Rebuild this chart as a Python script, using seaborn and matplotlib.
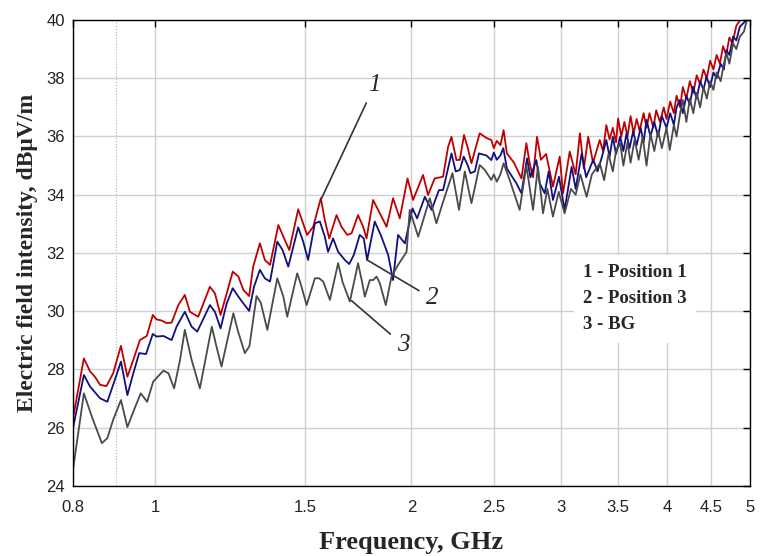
import numpy as np
import pandas as pd
import matplotlib
matplotlib.use('Agg')
import matplotlib.pyplot as plt
import seaborn as sns
from matplotlib.ticker import FixedLocator, NullFormatter

# Частоты (ГГц) и уровни (дБмкВ/м)
freq_pos1 = [0.800, 0.824, 0.838, 0.849, 0.861, 0.876, 0.892, 0.911, 0.927, 0.942, 0.959, 0.977,
             0.993, 1.003, 1.017, 1.031, 1.045, 1.064, 1.083, 1.098, 1.123, 1.159, 1.175, 1.193,
             1.213, 1.233, 1.252, 1.269, 1.289, 1.303, 1.327, 1.345, 1.364, 1.395, 1.414, 1.437,
             1.472, 1.508, 1.533, 1.565, 1.582, 1.601, 1.633, 1.655, 1.681, 1.701, 1.731, 1.755,
             1.771, 1.803, 1.836, 1.870, 1.903, 1.938, 1.979, 2.009, 2.064, 2.092, 2.130, 2.179,
             2.209, 2.229, 2.259, 2.280, 2.306, 2.330, 2.353, 2.406, 2.450, 2.483, 2.500, 2.520,
             2.545, 2.567, 2.590, 2.640, 2.694, 2.730, 2.755, 2.780, 2.810, 2.840, 2.880, 2.934,
             2.988, 3.015, 3.070, 3.120, 3.156, 3.190, 3.228, 3.270, 3.33, 3.36, 3.39, 3.42,
             3.45, 3.48, 3.50, 3.53, 3.56, 3.59, 3.62, 3.65, 3.68, 3.71, 3.75, 3.78,
             3.81, 3.85, 3.88, 3.92, 3.96, 3.99, 4.03, 4.07, 4.10, 4.14, 4.17, 4.21,
             4.25, 4.29, 4.33, 4.37, 4.41, 4.45, 4.49, 4.53, 4.57, 4.61, 4.65, 4.69,
             4.73, 4.77, 4.82, 4.87, 4.95, 5.00]
level_pos1 = [26.32, 28.38, 27.93, 27.75, 27.47, 27.43, 27.87, 28.81, 27.75, 28.33, 29.01, 29.15,
              29.87, 29.72, 29.68, 29.59, 29.61, 30.21, 30.56, 29.98, 29.81, 30.84, 30.61, 29.87,
              30.61, 31.36, 31.19, 30.73, 30.52, 31.53, 32.33, 31.76, 31.59, 32.96, 32.56, 32.10,
              33.50, 32.62, 32.90, 33.88, 33.13, 32.50, 33.30, 32.90, 32.62, 32.68, 33.30, 32.90,
              32.50, 33.82, 33.36, 32.90, 33.88, 33.19, 34.56, 33.82, 34.68, 33.99, 34.56, 34.62,
              35.65, 35.99, 35.19, 35.20, 36.05, 35.60, 35.08, 36.11, 35.95, 35.88, 35.60, 35.85,
              35.70, 36.22, 35.42, 35.10, 34.56, 35.77, 35.08, 34.60, 35.99, 35.20, 35.40, 34.28,
              35.31, 34.05, 35.48, 34.70, 36.11, 34.90, 35.99, 35.10, 35.88, 35.50, 36.39, 35.90,
              36.30, 35.80, 36.62, 36.00, 36.50, 36.00, 36.70, 36.10, 36.60, 36.20, 36.80, 36.30,
              36.80, 36.30, 36.90, 36.50, 37.00, 36.60, 37.20, 36.80, 37.40, 37.00, 37.70, 37.30,
              37.90, 37.50, 38.10, 37.80, 38.30, 38.00, 38.60, 38.30, 38.80, 38.50, 39.10, 38.80,
              39.40, 39.20, 39.80, 40.00, 40.00, 40.00]

freq_pos3 = [0.800, 0.824, 0.838, 0.861, 0.878, 0.896, 0.911, 0.927, 0.942, 0.957, 0.975, 0.993,
             1.003, 1.022, 1.045, 1.059, 1.083, 1.103, 1.120, 1.159, 1.175, 1.193, 1.213, 1.233,
             1.252, 1.269, 1.289, 1.306, 1.327, 1.345, 1.364, 1.391, 1.411, 1.433, 1.472, 1.492,
             1.512, 1.540, 1.561, 1.582, 1.596, 1.618, 1.640, 1.670, 1.690, 1.711, 1.739, 1.758,
             1.774, 1.811, 1.844, 1.878, 1.903, 1.929, 1.965, 2.006, 2.031, 2.074, 2.112, 2.155,
             2.179, 2.209, 2.229, 2.255, 2.280, 2.304, 2.330, 2.347, 2.375, 2.401, 2.450, 2.483,
             2.500, 2.520, 2.545, 2.565, 2.590, 2.658, 2.694, 2.735, 2.760, 2.805, 2.830, 2.869,
             2.900, 2.934, 2.982, 3.028, 3.086, 3.120, 3.171, 3.210, 3.272, 3.310, 3.35, 3.39,
             3.42, 3.45, 3.48, 3.52, 3.55, 3.58, 3.61, 3.645, 3.68, 3.72, 3.75, 3.78,
             3.82, 3.86, 3.90, 3.94, 3.99, 4.03, 4.07, 4.10, 4.136, 4.17, 4.21, 4.25,
             4.287, 4.33, 4.37, 4.41, 4.445, 4.49, 4.53, 4.57, 4.62, 4.66, 4.693, 4.73,
             4.778, 4.82, 4.866, 4.955, 5.00]
level_pos3 = [25.98, 27.81, 27.41, 27.01, 26.89, 27.64, 28.27, 27.12, 27.87, 28.56, 28.53, 29.22,
              29.13, 29.15, 29.01, 29.47, 29.98, 29.47, 29.30, 30.21, 29.98, 29.41, 30.27, 30.79,
              30.50, 30.27, 30.01, 30.84, 31.42, 31.13, 31.02, 32.39, 32.10, 31.53, 32.88, 32.39,
              31.76, 33.02, 33.08, 32.56, 32.04, 32.50, 32.04, 31.76, 31.62, 31.93, 32.62, 32.50,
              31.76, 33.08, 32.56, 31.93, 31.07, 32.62, 32.33, 33.53, 33.19, 33.93, 33.48, 34.16,
              34.16, 34.91, 35.42, 34.80, 34.85, 35.31, 35.00, 34.74, 34.80, 35.42, 35.35, 35.19,
              35.45, 35.20, 35.35, 35.60, 34.90, 34.39, 34.05, 35.25, 34.60, 35.19, 34.40, 34.05,
              34.80, 33.82, 34.62, 33.48, 34.96, 34.20, 35.42, 34.60, 35.20, 34.80, 35.30, 35.88,
              35.30, 35.99, 35.40, 36.00, 35.50, 36.10, 35.60, 36.17, 35.70, 36.30, 35.80, 36.57,
              36.00, 36.50, 36.00, 36.70, 36.30, 36.80, 36.40, 37.00, 37.25, 36.80, 37.40, 37.10,
              37.71, 37.30, 37.90, 37.60, 38.05, 37.70, 38.20, 38.00, 38.50, 38.30, 38.97, 38.80,
              39.43, 39.30, 39.77, 40.00, 40.00]

freq_bg = [0.800, 0.824, 0.842, 0.865, 0.878, 0.892, 0.911, 0.927, 0.942, 0.961, 0.978, 0.994,
           1.022, 1.036, 1.052, 1.069, 1.083, 1.103, 1.128, 1.165, 1.180, 1.196, 1.235, 1.251,
           1.274, 1.290, 1.315, 1.330, 1.354, 1.391, 1.414, 1.429, 1.468, 1.480, 1.506, 1.540,
           1.558, 1.575, 1.604, 1.640, 1.660, 1.693, 1.731, 1.750, 1.763, 1.787, 1.803, 1.820,
           1.836, 1.866, 1.895, 1.930, 1.974, 1.991, 2.037, 2.102, 2.140, 2.179, 2.209, 2.235,
           2.275, 2.311, 2.353, 2.406, 2.440, 2.483, 2.500, 2.520, 2.545, 2.567, 2.610, 2.681,
           2.730, 2.780, 2.817, 2.856, 2.890, 2.934, 2.980, 3.028, 3.080, 3.120, 3.160, 3.214,
           3.260, 3.331, 3.37, 3.41, 3.45, 3.48, 3.52, 3.55, 3.59, 3.62, 3.66, 3.70,
           3.74, 3.78, 3.82, 3.86, 3.90, 3.94, 3.99, 4.025, 4.07, 4.10, 4.14, 4.17,
           4.21, 4.25, 4.29, 4.33, 4.37, 4.41, 4.45, 4.49, 4.53, 4.57, 4.62, 4.66,
           4.693, 4.73, 4.778, 4.82, 4.866, 4.92, 4.96, 5.00]
level_bg = [24.55, 27.18, 26.38, 25.47, 25.64, 26.27, 26.95, 26.02, 26.55, 27.18, 26.89, 27.58,
            27.96, 27.87, 27.35, 28.33, 29.36, 28.33, 27.35, 29.47, 28.78, 28.10, 29.93, 29.30,
            28.56, 28.80, 30.52, 30.30, 29.36, 31.13, 30.50, 29.81, 31.30, 31.00, 30.21, 31.13,
            31.13, 31.02, 30.39, 31.65, 31.00, 30.33, 31.65, 31.00, 30.50, 31.07, 31.07, 31.19,
            30.96, 30.21, 31.19, 31.60, 32.04, 33.48, 32.56, 33.88, 33.02, 33.76, 34.28, 34.74,
            33.48, 34.80, 33.71, 35.02, 34.85, 34.51, 34.70, 34.45, 34.70, 35.08, 34.50, 33.48,
            35.00, 33.48, 34.96, 33.36, 34.20, 33.25, 34.10, 33.36, 34.20, 34.00, 34.70, 33.93,
            34.70, 35.08, 34.50, 35.40, 34.80, 35.50, 35.77, 35.00, 35.80, 35.10, 35.90, 35.20,
            36.00, 35.00, 36.10, 35.50, 36.20, 35.60, 36.30, 35.54, 36.40, 36.00, 36.80, 37.25,
            36.50, 37.30, 36.80, 37.50, 37.00, 37.70, 37.30, 37.90, 37.60, 38.20, 37.90, 38.50,
            38.86, 38.50, 39.20, 39.00, 39.43, 39.60, 40.00, 40.00]

series_names = ['1 - Position 1', '2 - Position 3', '3 - BG']
series_colors = ['#c00000', '#101080', '#4a4a4a']
xtick_values = [0.8, 1, 1.5, 2, 2.5, 3, 3.5, 4, 4.5, 5]
xtick_labels = ['0.8', '1', '1.5', '2', '2.5', '3', '3.5', '4', '4.5', '5']
ytick_values = [24, 26, 28, 30, 32, 34, 36, 38, 40]

df = pd.concat([
    pd.DataFrame({'freq': freq_pos1, 'level': level_pos1, 'series': series_names[0]}),
    pd.DataFrame({'freq': freq_pos3, 'level': level_pos3, 'series': series_names[1]}),
    pd.DataFrame({'freq': freq_bg, 'level': level_bg, 'series': series_names[2]}),
], ignore_index=True)

sns.set_style('whitegrid')
plt.rcParams['font.family'] = ['Liberation Sans', 'DejaVu Sans']
serif_bold = dict(family='Liberation Serif', weight='bold')

fig = plt.figure(figsize=(7.64, 5.56), dpi=100)
ax = fig.add_axes([0.0955, 0.126, 0.886, 0.838])

sns.lineplot(data=df, x='freq', y='level', hue='series', hue_order=series_names,
             palette=series_colors, estimator=None, linewidth=1.3,
             solid_joinstyle='round', ax=ax)

ax.set_xscale('log')
ax.set_xlim(0.8, 5)
ax.set_ylim(24, 40)
ax.xaxis.set_major_locator(FixedLocator(xtick_values))
ax.set_xticklabels(xtick_labels)
ax.xaxis.set_minor_locator(FixedLocator([0.9]))
ax.xaxis.set_minor_formatter(NullFormatter())
ax.set_yticks(ytick_values)

ax.grid(which='major', color='#d0d0d0', linewidth=1, linestyle='-')
ax.grid(which='minor', axis='x', color='#b0b0b0', linewidth=0.8, linestyle=':')
ax.tick_params(which='major', direction='in', top=True, right=True, length=5, width=1,
               color='black', labelsize=12, labelcolor='#222222')
ax.tick_params(which='minor', length=0)
ax.tick_params(axis='x', pad=10)
ax.tick_params(axis='y', pad=6)
for sp in ax.spines.values():
    sp.set_color('black')
    sp.set_linewidth(1)

ax.set_xlabel('Frequency, GHz', fontsize=19, labelpad=12, **serif_bold)
ax.set_ylabel('Electric field intensity, dBμV/m', fontsize=17, labelpad=6, **serif_bold)

# Выноски с номерами кривых
lead = dict(arrowstyle='-', color='#333333', lw=1.2, shrinkA=3, shrinkB=0)
num_font = dict(family='Liberation Serif', style='italic', fontsize=18)
ax.annotate('1', xy=(1.566, 33.84), xytext=(1.811, 37.77), ha='center', va='center',
            arrowprops=lead, **num_font)
ax.annotate('2', xy=(1.774, 31.76), xytext=(2.115, 30.44), ha='center', va='center',
            arrowprops=lead, **num_font)
ax.annotate('3', xy=(1.701, 30.36), xytext=(1.955, 28.84), ha='center', va='center',
            arrowprops=lead, **num_font)

leg = ax.legend(loc='upper left', bbox_to_anchor=(0.726, 0.516), handlelength=0,
                handletextpad=0, frameon=True, facecolor='white', edgecolor='none',
                framealpha=1, fancybox=False, borderpad=0.5, labelspacing=0.47,
                prop=dict(size=13.5, **serif_bold))
for h in leg.legend_handles:
    h.set_visible(False)

plt.savefig('out.png', dpi=100)
plt.close()
